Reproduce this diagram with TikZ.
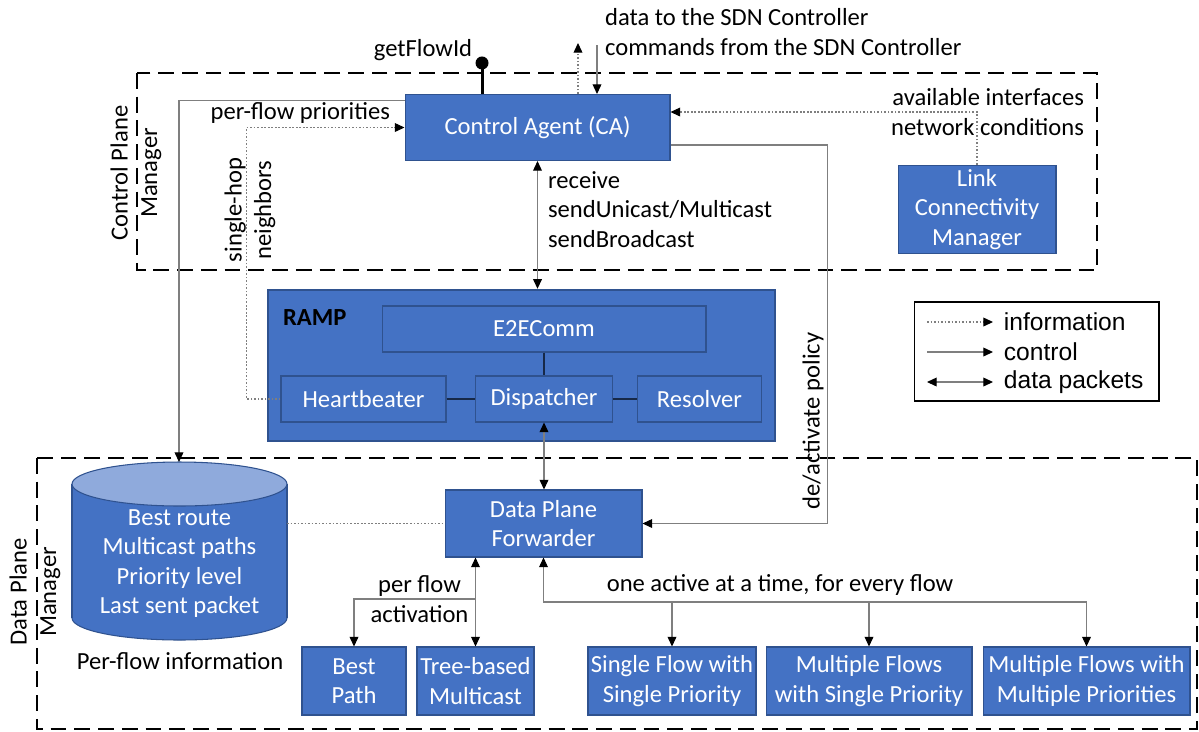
\documentclass[tikz,border=0pt]{standalone}
\usepackage{fontspec}
\setmainfont{Carlito}
\newfontfamily\legendfont{Liberation Sans}
\usepackage{tikz}
\usetikzlibrary{arrows.meta}
\tikzset{>={Triangle[length=5.5pt,width=5pt,color=black]}}
\definecolor{boxblue}{HTML}{4472C4}
\definecolor{boxedge}{HTML}{2F528F}
\definecolor{toplight}{HTML}{8FAADC}
\definecolor{wiregray}{HTML}{7F7F7F}
\tikzset{
    blk/.style={draw=boxedge, fill=boxblue, text=white, align=center, inner sep=1pt, line width=0.6pt},
    lbl/.style={inner sep=1pt},
    plane/.style={line width=1.4pt, dash pattern=on 9pt off 4.5pt},
    ctrl/.style={draw=wiregray, line width=0.6pt},
    info/.style={draw=wiregray, line width=0.6pt, dash pattern=on 1pt off 1pt},
    data/.style={<->, draw=wiregray, line width=0.6pt},
    link/.style={draw=boxedge!50!black, line width=0.6pt}
}

\begin{document}
\begin{tikzpicture}[x=0.02cm, y=-0.02cm, every node/.style={font=\fontsize{14}{16.8}\selectfont}]
    \useasboundingbox (0,0) rectangle (1199,731);
    % planes
    \draw[plane] (137,73) rectangle (1097,270);
    \draw[plane] (37,458) rectangle (1197,729);
    \node[lbl, rotate=90, align=center] at (136,173) (cpmlbl) {Control Plane\\Manager};
    \node[lbl, rotate=90, align=center] at (35,592) (dpmlbl) {Data Plane\\Manager};

    % control plane
    \node[blk, minimum width=5.3cm, minimum height=1.32cm] at (537.5,127.5) (ca) {Control Agent (CA)};
    \node[blk, minimum width=3.16cm, minimum height=1.76cm] at (977,209.5) (lcm) {Link\\Connectivity\\Manager};

    % RAMP
    \node[blk, line width=1.4pt, minimum width=10.14cm, minimum height=3.02cm] at (521.5,365.5) (ramp) {};
    \node[lbl, anchor=west, font=\fontsize{14}{16.8}\selectfont\bfseries] at (281,318) (ramplbl) {RAMP};
    \node[blk, minimum width=6.48cm, minimum height=0.92cm] at (544,329) (e2e) {E2EComm};
    \node[blk, minimum width=3.3cm, minimum height=0.92cm] at (363.5,399) (hb) {Heartbeater};
    \node[blk, minimum width=2.74cm, minimum height=0.92cm] at (544,399) (disp) {Dispatcher};
    \node[blk, minimum width=2.48cm, minimum height=0.92cm] at (699.5,399) (res) {Resolver};

    % data plane
    \node[blk, minimum width=3.94cm, minimum height=1.34cm] at (543.5,523.5) (dpf) {Data Plane\\Forwarder};
    \node[blk, minimum width=2.08cm, minimum height=1.36cm] at (354,681) (bp) {Best\\Path};
    \node[blk, minimum width=2.34cm, minimum height=1.36cm] at (475.5,681) (tbm) {Tree-based\\Multicast};
    \node[blk, minimum width=3.36cm, minimum height=1.36cm] at (672,681) (sfsp) {Single Flow with\\Single Priority};
    \node[blk, minimum width=4.12cm, minimum height=1.36cm] at (869,681) (mfsp) {Multiple Flows\\with Single Priority};
    \node[blk, minimum width=4.14cm, minimum height=1.36cm] at (1086.5,681) (mfmp) {Multiple Flows with\\Multiple Priorities};

    % per-flow table
    \filldraw[fill=boxblue, draw=boxedge, line width=0.6pt] (179.5,618) ellipse [x radius=2.15cm, y radius=0.44cm];
    \fill[boxblue] (72,484) rectangle (287,618);
    \draw[boxedge, line width=0.6pt] (72,484) -- (72,618) (287,484) -- (287,618);
    \filldraw[fill=toplight, draw=boxedge, line width=0.6pt] (179.5,484) ellipse [x radius=2.15cm, y radius=0.44cm];
    \node[lbl, text=white, align=center] at (179.5,563.5) (db) {Best route\\Multicast paths\\Priority level\\Last sent packet};
    \node[lbl] at (180,661) (dblbl) {Per-flow information};
    \coordinate (dbtop) at (179,462);
    \coordinate (dbside) at (287,523.5);

    % outside the planes
    \coordinate (sdnout) at (578,43);
    \coordinate (sdnin) at (597,45);
    \node[lbl, anchor=west, align=left] at (603,32) (sdn) {data to the SDN Controller\\commands from the SDN Controller};
    \draw[line width=1.7pt] ([xshift=-1.11cm]ca.north) -- ++(0,-31) coordinate (gf);
    \fill (gf) circle (0.13cm);
    \node[lbl] at (423,50) (gflbl) {getFlowId};
    \draw[info,->] (ca.north -| sdnout) -- (sdnout);
    \draw[ctrl,->] (sdnin) -- (sdnin |- ca.north);

    % connectors
    \draw[ctrl,->] ([yshift=-0.13cm]ca.north west) -| (dbtop);
    \node[lbl, anchor=east] at (392,113) (prio) {per-flow priorities};
    \draw[info,->] (hb.west) -- ++(-34,0) |- (ca.west);
    \node[lbl, rotate=90, align=center] at (250,210) (nbr) {single-hop\\neighbors};
    \draw[info,->] (lcm.north) |- ([yshift=0.31cm]ca.east);
    \node[lbl, anchor=east, align=right] at (1086,112) (ifc) {available interfaces\\network conditions};
    \draw[data] (ca.south) -- (ca.south |- ramp.north);
    \node[lbl, anchor=west, align=left] at (546,209.5) (api) {receive\\sendUnicast/Multicast\\sendBroadcast};
    \draw[ctrl,->] ([yshift=-0.35cm]ca.east) -- ++(157,0) |- (dpf.east);
    \node[lbl, rotate=90] at (813,421) (pol) {de/activate policy};

    \draw[link] (e2e.south) -- (disp.north);
    \draw[link] (hb.east) -- (disp.west);
    \draw[link] (disp.east) -- (res.west);
    \draw[data] (disp.south) -- (disp.south |- dpf.north);
    \draw[info] (dbside) -- (dpf.west);

    \coordinate (fork) at (475.5,599);
    \draw[data] (dpf.south -| tbm.north) -- (tbm.north);
    \draw[ctrl,->] (fork) -| (bp.north);
    \node[lbl, align=center] at (419.5,599) (act) {per flow\\activation};

    \coordinate (bus) at (543.5,602);
    \draw[ctrl,<->] (dpf.south) -- (bus) -| (mfmp.north);
    \foreach \n in {sfsp,mfsp}
        \draw[ctrl,->] (bus -| \n.north) -- (\n.north);
    \node[lbl] at (780,585) (once) {one active at a time, for every flow};

    % legend
    \node[draw, line width=0.6pt, minimum width=4.9cm, minimum height=1.98cm] at (1036.5,351.5) (leg) {};
    \begin{scope}[every node/.style={font=\legendfont\fontsize{14}{16.8}\selectfont, anchor=west, inner xsep=6pt, inner ysep=1pt}]
        \node at (993,322) (li) {information};
        \node at (993,352) (lc) {control};
        \node at (993,382) (ld) {data packets};
    \end{scope}
    \draw[info,->] (li.west) ++(-66,0) -- (li.west);
    \draw[ctrl,->] (lc.west) ++(-66,0) -- (lc.west);
    \draw[data] (ld.west) ++(-66,0) -- (ld.west);
\end{tikzpicture}
\end{document}
